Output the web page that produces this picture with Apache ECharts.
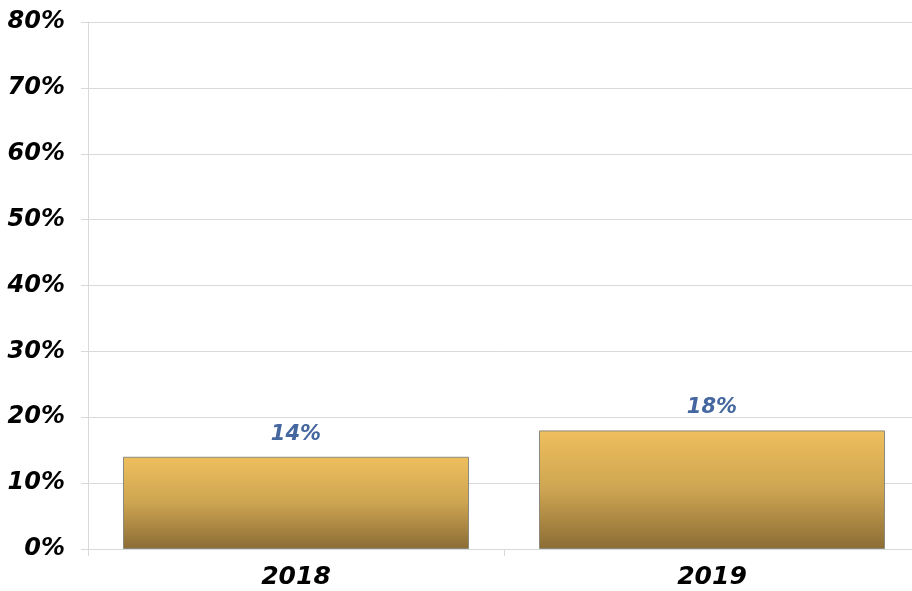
<!DOCTYPE html>
<html>
<head>
<meta charset="utf-8">
<script src="https://cdn.jsdelivr.net/npm/echarts@6/dist/echarts.min.js"></script>
<style>
  html, body { margin: 0; padding: 0; background: #fff; }
  #main { width: 912px; height: 591px; }
</style>
</head>
<body>
<div id="main"></div>
<script>
// data
var years = ['2018', '2019'];
var shares = [14, 18];
var tickLabels = ['0%', '10%', '20%', '30%', '40%', '50%', '60%', '70%', '80%'];

var chart = echarts.init(document.getElementById('main'));
var font = 'DejaVu Sans';

var option = {
    animation: false,
    grid: { left: 88, right: -8, top: 22, bottom: 42, outerBoundsMode: 'none', containLabel: false },
    xAxis: {
        type: 'category',
        data: years,
        axisLine: { show: true, lineStyle: { color: '#d9d9d9' } },
        axisTick: { show: true, length: 7, lineStyle: { color: '#d9d9d9' } },
        axisLabel: {
            margin: 16,
            color: '#000',
            fontFamily: font,
            fontWeight: 'bold',
            fontStyle: 'italic',
            fontSize: 25
        }
    },
    yAxis: {
        type: 'value',
        min: 0,
        max: 80,
        interval: 10,
        axisLine: { show: true, lineStyle: { color: '#d9d9d9' } },
        axisTick: { show: true, length: 7, lineStyle: { color: '#d9d9d9' } },
        splitLine: { lineStyle: { color: '#d9d9d9' } },
        axisLabel: {
            margin: 23,
            color: '#000',
            fontFamily: font,
            fontWeight: 'bold',
            fontStyle: 'italic',
            fontSize: 24,
            formatter: function (v) { return tickLabels[v / 10]; }
        }
    },
    series: [{
        type: 'bar',
        data: shares,
        barWidth: 346,
        itemStyle: {
            borderColor: '#8c8a7c',
            borderWidth: 1,
            color: new echarts.graphic.LinearGradient(0, 0, 0, 1, [
                { offset: 0, color: '#efbf5d' },
                { offset: 0.5, color: '#cda451' },
                { offset: 1, color: '#8b6c35' }
            ])
        },
        label: {
            show: true,
            position: 'top',
            distance: 12,
            color: '#44679f',
            fontFamily: font,
            fontWeight: 'bold',
            fontStyle: 'italic',
            fontSize: 21,
            formatter: '{c}%'
        }
    }]
};

chart.setOption(option);
</script>
</body>
</html>
